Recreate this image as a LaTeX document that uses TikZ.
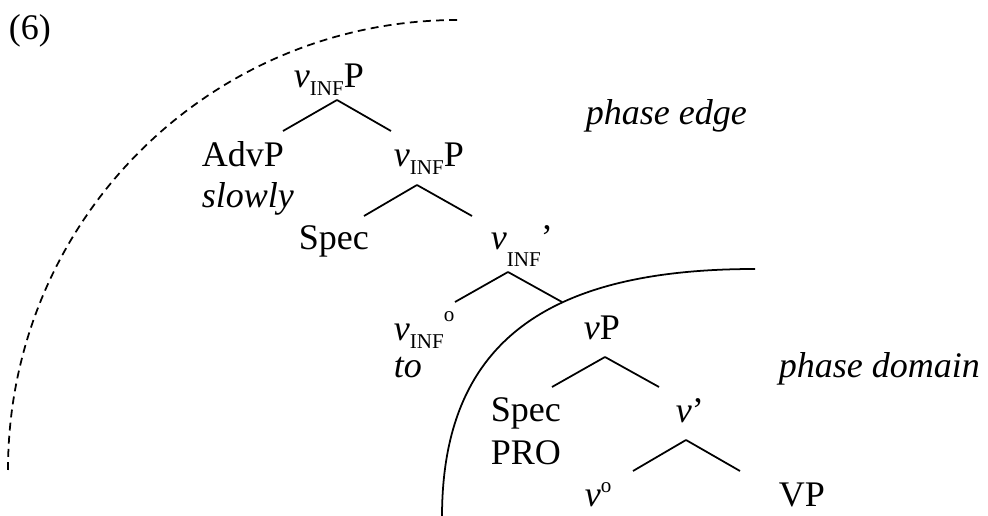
\documentclass[tikz,border=0pt]{standalone}
\usepackage{fontspec}
\setmainfont{Liberation Serif}

% small raised / lowered pieces of the labels
\newcommand{\infsub}[1][-0.2em]{\raisebox{#1}{\fontsize{12}{12}\selectfont INF}}
\newcommand{\headmark}[1][0.39em]{\raisebox{#1}{\fontsize{12}{12}\selectfont o}}

\begin{document}
\begin{tikzpicture}[x=0.02cm, y=-0.02cm, line width=1pt, font=\fontsize{20.5}{24}\selectfont,
    lab/.style = {inner sep=0pt, anchor=base west},
    ital/.style = {lab, font=\fontsize{20.5}{24}\selectfont\itshape}]
      \useasboundingbox (0,0) rectangle (988,516);
      \node[lab] (num) at (8,40) {(6)};
      \node[lab] (vinfP) at (293,88) {\textit{v}\infsub P};
      \node[lab] (advP) at (201,167) {AdvP};
      \node[ital] (slowly) at (201,208) {slowly};
      \node[lab] (vinfPb) at (393,167) {\textit{v}\infsub P};
      \node[lab] (spec) at (298,250) {Spec};
      \node[lab] (vinfBar) at (490,250) {\textit{v}\infsub[-0.45em]’};
      \node[lab] (vinfHead) at (393,341) {\textit{v}\infsub\headmark[0.53em]};
      \node[ital] (to) at (393,378) {to};
      \node[lab] (vP) at (583,340) {\textit{v}P};
      \node[lab] (specPro) at (490,422) {Spec};
      \node[lab] (pro) at (490,465) {PRO};
      \node[lab] (vBar) at (675,423) {\textit{v}’};
      \node[lab] (vHead) at (584,507) {\textit{v}\headmark};
      \node[lab] (VP) at (778,507) {VP};
      \node[ital] (phaseEdge) at (585,125) {phase edge};
      \node[ital] (phaseDomain) at (778,378) {phase domain};

      % branch points of the tree
      \coordinate (a1) at (337,100); \coordinate (l1) at (283,131); \coordinate (r1) at (391,131);
      \coordinate (a2) at (417,185); \coordinate (l2) at (364,216); \coordinate (r2) at (472,216);
      \coordinate (a3) at (508,272); \coordinate (l3) at (455,302); \coordinate (r3) at (562,302);
      \coordinate (a4) at (605,357); \coordinate (l4) at (552,387); \coordinate (r4) at (659,387);
      \coordinate (a5) at (686,440); \coordinate (l5) at (633,471); \coordinate (r5) at (740,471);
      \path
      (a1) edge (l1)
      (a1) edge (r1)
      (a2) edge (l2)
      (a2) edge (r2)
      (a3) edge (l3)
      (a3) edge (r3)
      (a4) edge (l4)
      (a4) edge (r4)
      (a5) edge (l5)
      (a5) edge (r5)
      ;

      % phase boundaries
      \draw[dash pattern=on 4.5pt off 3pt] (8,470) .. controls (8,221) and (209,20) .. (458,20);
      \draw (442,517) .. controls (442,340) and (550,269) .. (755,269);
    \end{tikzpicture}
\end{document}
